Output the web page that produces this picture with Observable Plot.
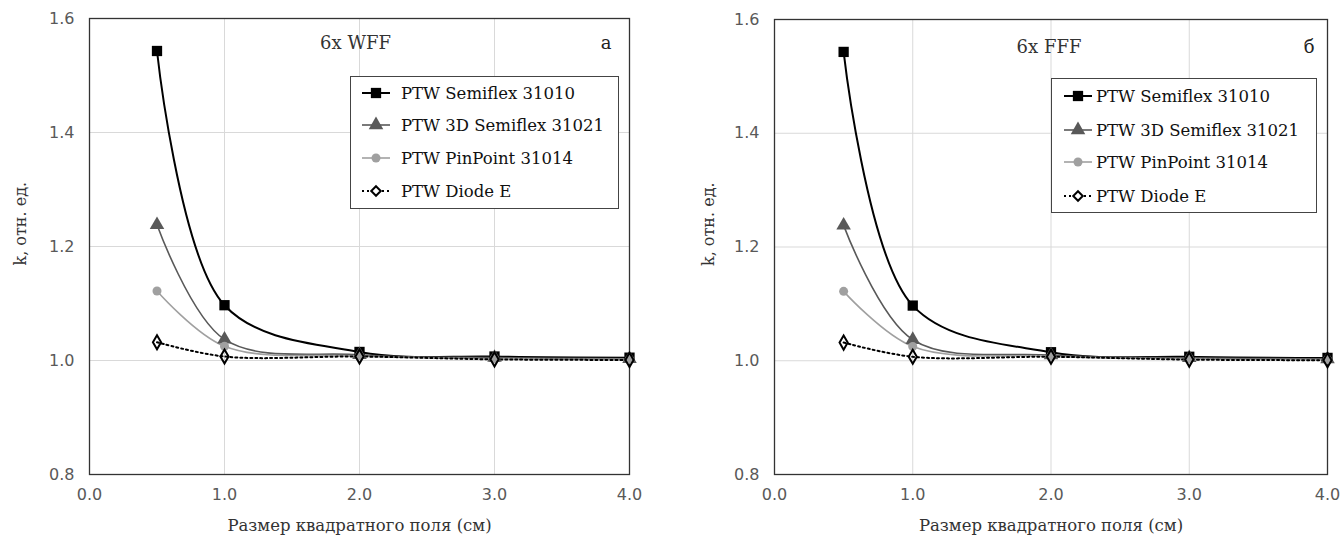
<!DOCTYPE html>
<html>
<head>
<meta charset="utf-8">
<script src="https://cdn.jsdelivr.net/npm/d3@7"></script>
<script src="https://cdn.jsdelivr.net/npm/@observablehq/plot@0.6"></script>
<style>
  body { margin: 0; background: #fff; }
  #wrap { position: relative; width: 1341px; height: 542px; overflow: hidden; }
  .panel { position: absolute; top: 0; }
  .legend { position: absolute; display: block; }
</style>
</head>
<body>
<div id="wrap"></div>
<script>
// ---------- data ----------
const fieldSizes = [0.5, 1, 2, 3, 4];
const seriesNames = ["PTW Semiflex 31010", "PTW 3D Semiflex 31021", "PTW PinPoint 31014", "PTW Diode E"];

// panel а: 6x WFF
const wffSemiflex   = [1.543, 1.097, 1.015, 1.007, 1.005];
const wff3DSemiflex = [1.238, 1.037, 1.010, 1.005, 1.003];
const wffPinPoint   = [1.122, 1.025, 1.008, 1.003, 1.002];
const wffDiodeE     = [1.032, 1.007, 1.007, 1.002, 1.001];

// panel б: 6x FFF
const fffSemiflex   = [1.543, 1.097, 1.015, 1.007, 1.005];
const fff3DSemiflex = [1.238, 1.037, 1.010, 1.005, 1.003];
const fffPinPoint   = [1.122, 1.025, 1.008, 1.003, 1.002];
const fffDiodeE     = [1.032, 1.007, 1.007, 1.002, 1.001];

const xTicks = [0, 1, 2, 3, 4];
const yTicks = [0.8, 1.0, 1.2, 1.4, 1.6];
const xLabel = "Размер квадратного поля (см)";
const yLabel = "k, отн. ед.";

// ---------- styles ----------
const styles = [
  {stroke: "#000000", width: 2,   dash: null,  symbol: "square",   r: 5.8, fill: "#000000", sstroke: "none", sw: 0},
  {stroke: "#595959", width: 1.6, dash: null,  symbol: "triangle", r: 5.4, fill: "#595959", sstroke: "none", sw: 0},
  {stroke: "#a0a0a0", width: 1.6, dash: null,  symbol: "circle",   r: 4.5, fill: "#a0a0a0", sstroke: "none", sw: 0},
  {stroke: "#000000", width: 2,   dash: "2,3", symbol: "diamond",  r: 4.3, fill: "none",    sstroke: "#000000", sw: 2}
];

function rows(vals) {
  const out = [];
  vals.forEach((arr, i) => arr.forEach((v, j) => out.push({series: seriesNames[i], idx: i, x: fieldSizes[j], y: v})));
  return out;
}

function panel(data, o) {
  const serif = "DejaVu Serif";
  const marks = [
    Plot.gridX(xTicks.slice(1, -1), {stroke: "#d9d9d9", strokeOpacity: 1, strokeWidth: 1}),
    Plot.gridY(yTicks, {stroke: "#d9d9d9", strokeOpacity: 1, strokeWidth: 1}),
    Plot.frame({stroke: "#333", strokeWidth: 1.3}),
    Plot.axisX(xTicks, {tickSize: 0, tickPadding: 14, tickFormat: d3.format(".1f"), label: null,
      fontFamily: "DejaVu Sans", fontSize: 16, fill: "#595959"}),
    Plot.axisY(yTicks, {tickSize: 0, tickPadding: 15, tickFormat: d3.format(".1f"), label: null,
      fontFamily: "DejaVu Sans", fontSize: 16, fill: "#595959"}),
    Plot.text([xLabel], {frameAnchor: "bottom", dy: 56, text: d => d, fontFamily: serif, fontSize: 16.5, fill: "#333"}),
    Plot.text([yLabel], {frameAnchor: "left", dx: o.ylabDx, dy: 19, rotate: -90, text: d => d, fontFamily: serif, fontSize: 16, fill: "#333"}),
    Plot.text([o.title], {frameAnchor: "top", dx: o.titleDx, dy: o.titleDy, text: d => d, fontFamily: serif, fontSize: 18, fill: "#333"}),
    Plot.text([o.letter], {frameAnchor: "top-right", dx: o.letterDx, dy: o.titleDy, text: d => d, fontFamily: serif, fontSize: 18, fill: "#222"})
  ];
  styles.forEach((s, i) => {
    const d = data.filter(r => r.idx === i);
    marks.push(Plot.line(d, {x: "x", y: "y", curve: "catmull-rom", stroke: s.stroke, strokeWidth: s.width, strokeDasharray: s.dash}));
  });
  styles.forEach((s, i) => {
    const d = data.filter(r => r.idx === i);
    marks.push(Plot.dot(d, {x: "x", y: "y", symbol: s.symbol, r: s.r, fill: s.fill, stroke: s.sstroke, strokeWidth: s.sw}));
  });
  return Plot.plot({
    width: o.width, height: 542,
    marginLeft: o.ml, marginRight: o.mr, marginTop: o.mt, marginBottom: 68,
    x: {domain: [0, 4]},
    y: {domain: [0.8, 1.6]},
    style: {background: "transparent", overflow: "visible"},
    marks
  });
}

function legend(parent, o) {
  const svg = d3.create("svg")
    .attr("class", "legend")
    .attr("width", o.w).attr("height", o.h)
    .style("left", o.left + "px").style("top", o.top + "px");
  svg.append("rect").attr("x", 0.5).attr("y", 0.5).attr("width", o.w - 1).attr("height", o.h - 1)
    .attr("fill", "#fff").attr("stroke", "#444").attr("stroke-width", 1);
  seriesNames.forEach((name, i) => {
    const s = styles[i];
    const cy = o.rowCenters[i];
    const g = svg.append("g").attr("transform", `translate(${o.swLeft},${cy})`);
    g.append("line").attr("x1", 0).attr("x2", 28).attr("y1", 0).attr("y2", 0)
      .attr("stroke", s.stroke).attr("stroke-width", s.width).attr("stroke-dasharray", s.dash);
    const sym = {square: d3.symbolSquare, triangle: d3.symbolTriangle, circle: d3.symbolCircle, diamond: d3.symbolDiamond2}[s.symbol];
    g.append("path").attr("transform", "translate(14,0)")
      .attr("d", d3.symbol(sym, Math.PI * s.r * s.r)())
      .attr("fill", s.fill === "none" ? "#fff" : s.fill).attr("stroke", s.sstroke).attr("stroke-width", s.sw);
    g.append("text").attr("x", o.textX).attr("y", 0).attr("dy", "0.35em")
      .attr("font-family", "DejaVu Serif").attr("font-size", 16.5).attr("fill", "#111")
      .text(name);
  });
  parent.appendChild(svg.node());
}

const wrap = document.getElementById("wrap");

const left = document.createElement("div");
left.className = "panel"; left.style.left = "0px";
left.appendChild(panel(rows([wffSemiflex, wff3DSemiflex, wffPinPoint, wffDiodeE]),
  {width: 670, ml: 89, mr: 41, mt: 18, title: "6x WFF", letter: "а", titleDx: -4, titleDy: 18, letterDx: -18, ylabDx: -69}));
wrap.appendChild(left);

const right = document.createElement("div");
right.className = "panel"; right.style.left = "670px";
right.appendChild(panel(rows([fffSemiflex, fff3DSemiflex, fffPinPoint, fffDiodeE]),
  {width: 671, ml: 104, mr: 14, mt: 19, title: "6x FFF", letter: "б", titleDx: -2, titleDy: 21, letterDx: -13, ylabDx: -66}));
wrap.appendChild(right);

legend(wrap, {left: 350, top: 76, w: 269, h: 133, rowCenters: [17, 49, 82, 115], swLeft: 12, textX: 39});
legend(wrap, {left: 1051, top: 78, w: 266, h: 135, rowCenters: [18, 52, 84, 118], swLeft: 13, textX: 32});
</script>
</body>
</html>
